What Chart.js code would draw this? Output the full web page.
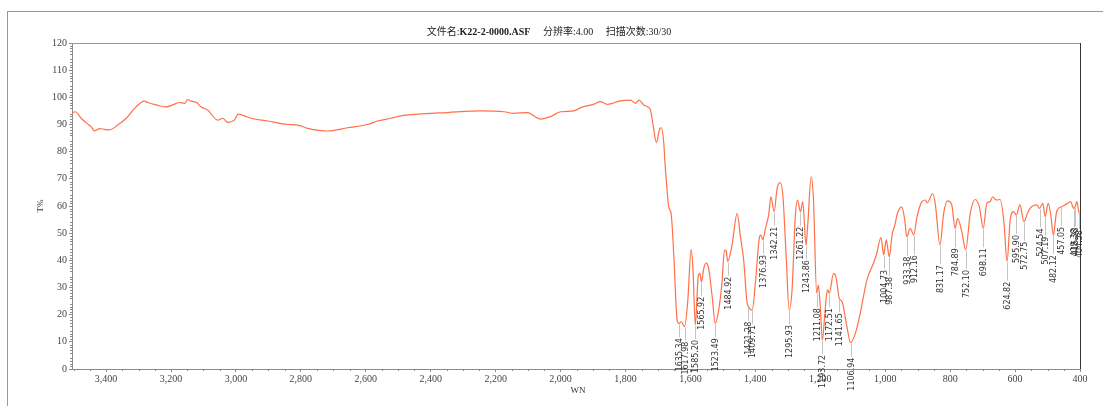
<!DOCTYPE html>
<html>
<head>
<meta charset="utf-8">
<script src="https://cdn.jsdelivr.net/npm/chart.js@4.4.1/dist/chart.umd.min.js"></script>
<style>
  html, body { margin: 0; padding: 0; background: #fff; overflow: hidden; }
  #wrap { width: 1103px; height: 406px; }
</style>
</head>
<body>
<div id="wrap"><canvas id="irChart" width="1103" height="406"></canvas></div>
<script>
// spectrum: wavenumber (cm-1) and transmittance (%)
const wavenumbers = [
  3505, 3495, 3477, 3460, 3446, 3436, 3420, 3405, 3390, 3364, 3338, 3308, 3282, 3272, 3246, 3215,
  3195, 3174, 3158, 3149, 3138, 3120, 3108, 3087, 3056, 3041, 3025, 3005, 2993, 2974, 2954, 2902,
  2841, 2810, 2779, 2718, 2656, 2595, 2564, 2523, 2492, 2451, 2349, 2246, 2174, 2144, 2103, 2062,
  2031, 2000, 1959, 1938, 1897, 1877, 1856, 1815, 1785, 1769, 1759, 1744, 1728, 1723, 1715, 1705,
  1694, 1690, 1682, 1679, 1672, 1667, 1659, 1651, 1641, 1635.34, 1628, 1617.98, 1608, 1598, 1592,
  1585.20, 1576, 1571, 1565.92, 1559, 1551, 1544, 1533, 1523.49, 1513, 1503, 1495, 1490, 1484.92,
  1472, 1456, 1446, 1436, 1426, 1421.28, 1409.71, 1400, 1387, 1383, 1376.93, 1369, 1359, 1352,
  1342.21, 1333, 1323, 1315, 1305, 1295.93, 1287, 1277, 1270, 1261.22, 1254, 1243.86, 1239, 1228,
  1221, 1211.08, 1206, 1200, 1193.72, 1185, 1178, 1172.51, 1159, 1151, 1141.65, 1133, 1118, 1106.94,
  1092, 1077, 1056, 1036, 1026, 1013, 1004.73, 997, 987.38, 979, 969, 964, 949, 940, 933.38, 923,
  912.16, 902, 887, 877, 870, 854, 846, 831.17, 820, 808, 795, 784.89, 777, 764, 752.10, 738, 723,
  710, 698.11, 687, 677, 669, 658, 646, 634, 624.82, 615, 605, 595.90, 585, 572.75, 562, 554, 533,
  524.54, 515, 507.19, 498, 490, 482.12, 472, 457.05, 441, 429, 419.38, 415.23, 410, 404.58, 400
];
const transmittance = [
  94.2, 94.7, 92.3, 90.5, 89.2, 87.6, 88.5, 88.2, 88.0, 89.8, 92.3, 96.5, 98.6, 98.1, 97.2, 96.5,
  97.2, 98.1, 97.8, 99.2, 98.6, 98.0, 96.5, 95.3, 91.6, 92.3, 90.8, 91.6, 93.8, 93.2, 92.3, 91.3,
  90.0, 89.8, 88.6, 87.6, 88.8, 90.0, 91.3, 92.3, 93.2, 93.7, 94.4, 95.0, 94.7, 94.1, 94.4, 92.0,
  92.9, 94.7, 95.0, 96.2, 97.5, 98.4, 97.4, 98.7, 99.0, 97.8, 99.0, 97.2, 96.2, 95.3, 89.8, 83.4,
  88.6, 88.8, 83.0, 76.9, 65.9, 59.7, 56.7, 41.3, 18.0, 16.8, 17.4, 15.6, 25.4, 44.0, 36.4,
  16.2, 34.0, 35.2, 32.1, 37.0, 39.1, 37.0, 26.6, 16.8, 21.7, 31.5, 43.8, 43.5, 39.5,
  45.6, 57.3, 48.7, 40.1, 24.8, 22.9, 21.7, 31.5, 48.7, 49.3, 47.5, 51.8, 56.7, 63.4,
  57.9, 66.5, 68.6, 63.4, 41.3, 21.7, 29.1, 56.1, 62.2, 57.9, 61.6, 45.6, 52.4, 70.7,
  62.2, 27.9, 30.9, 22.9, 10.7, 21.7, 29.1, 27.9, 35.2, 33.4, 26.0, 24.8, 15.6, 9.7,
  13.1, 20.5, 33.0, 39.0, 42.6, 48.4, 42.0, 47.5, 41.3, 49.3, 53.6, 56.7, 59.7, 55.0, 48.7, 51.8,
  49.3, 56.1, 61.6, 62.2, 61.2, 64.6, 61.0, 45.6, 57.3, 61.9, 60.4, 51.8, 55.4, 50.5, 43.8, 57.3, 62.4,
  59.7, 51.8, 61.0, 61.6, 63.4, 62.2, 62.4, 53.6, 39.5, 54.8, 57.9, 56.7, 60.4, 54.2, 57.3, 59.1, 60.4,
  59.1, 61.0, 56.1, 61.0, 56.7, 49.3, 57.9, 59.7, 60.7, 61.6, 59.1, 59.6, 61.6, 58.5, 56.1
];

// labelled minima
const peakWn = [
  1635.34, 1617.98, 1585.20, 1565.92, 1523.49, 1484.92, 1421.28, 1409.71, 1376.93, 1342.21,
  1295.93, 1261.22, 1243.86, 1211.08, 1193.72, 1172.51, 1141.65, 1106.94, 1004.73, 987.38,
  933.38, 912.16, 831.17, 784.89, 752.10, 698.11, 624.82, 595.90, 572.75, 524.54, 507.19,
  482.12, 457.05, 419.38, 415.23, 404.58
];
const peakT = [
  16.8, 15.6, 16.2, 32.1, 16.8, 39.5, 22.9, 21.7, 47.5, 57.9,
  21.7, 57.9, 45.6, 27.9, 10.7, 27.9, 26.0, 9.7, 42.0, 41.3,
  48.7, 49.3, 45.6, 51.8, 43.8, 51.8, 39.5, 56.7, 54.2, 59.1, 56.1,
  49.3, 59.7, 59.1, 59.6, 58.5
];

const titleParts = [
  { text: '文件名:', bold: false },
  { text: 'K22-2-0000.ASF', bold: true },
  { text: '     分辨率:4.00     扫描次数:30/30', bold: false }
];
const xTitle = 'WN';
const yTitle = 'T%';

(() => {
  'use strict';

  const serif = "'Liberation Serif', 'Noto Sans CJK SC', serif";
  const axisGray = '#8a8a8a';

  const points = wavenumbers.map((w, i) => ({ x: w, y: transmittance[i] }));

  const decorPlugin = {
    id: 'decor',
    beforeDraw(chart) {
      const { ctx } = chart;
      ctx.save();
      ctx.strokeStyle = '#9a9a9a';
      ctx.lineWidth = 1;
      ctx.strokeRect(7.5, 11.5, 2000, 2000);
      ctx.restore();
    },
    afterDraw(chart) {
      const { ctx, chartArea: a, scales } = chart;
      const xs = scales.x, ys = scales.y;
      ctx.save();
      // top and right frame of the plot
      ctx.lineWidth = 1;
      ctx.strokeStyle = '#9a9a9a';
      ctx.beginPath();
      ctx.moveTo(a.left, a.top + 0.5);
      ctx.lineTo(a.right, a.top + 0.5);
      ctx.stroke();
      ctx.strokeStyle = '#333';
      ctx.beginPath();
      ctx.moveTo(a.right + 0.5, a.top);
      ctx.lineTo(a.right + 0.5, a.bottom);
      ctx.stroke();

      // minor ticks
      ctx.strokeStyle = axisGray;
      ctx.beginPath();
      for (let v = 0; v <= 120; v += 1) {
        if (v % 5 === 0) continue;
        const y = Math.round(ys.getPixelForValue(v)) + 0.5;
        ctx.moveTo(a.left - 2, y);
        ctx.lineTo(a.left, y);
      }
      for (let v = 450; v <= 3500; v += 50) {
        if (v % 200 === 0) continue;
        const x = Math.round(xs.getPixelForValue(v)) + 0.5;
        ctx.moveTo(x, a.bottom);
        ctx.lineTo(x, a.bottom + 2);
      }
      ctx.stroke();

      // title
      ctx.fillStyle = '#222';
      ctx.textBaseline = 'middle';
      const fontOf = p => (p.bold ? 'bold ' : '') + '10px ' + serif;
      let total = 0;
      titleParts.forEach(p => { ctx.font = fontOf(p); total += ctx.measureText(p.text).width; });
      let tx = 549 - total / 2;
      titleParts.forEach(p => {
        ctx.font = fontOf(p);
        ctx.textAlign = 'left';
        ctx.fillText(p.text, tx, 32);
        tx += ctx.measureText(p.text).width;
      });

      // axis titles
      ctx.font = '9px ' + serif;
      ctx.fillStyle = '#333';
      ctx.textAlign = 'center';
      ctx.fillText(xTitle, (a.left + a.right) / 2 + 2, 391);
      ctx.save();
      ctx.translate(41, (a.top + a.bottom) / 2);
      ctx.rotate(-Math.PI / 2);
      ctx.fillText(yTitle, 0, 0);
      ctx.restore();
      ctx.restore();
    },
    afterDatasetsDraw(chart) {
      const { ctx, scales } = chart;
      ctx.save();
      ctx.font = "8px 'DejaVu Sans', sans-serif";
      ctx.textBaseline = 'middle';
      ctx.textAlign = 'left';
      peakWn.forEach((w, i) => {
        const x = Math.round(scales.x.getPixelForValue(w)) + 0.5;
        const y = scales.y.getPixelForValue(peakT[i]);
        const label = w.toFixed(2);
        const bottom = y + 48;
        const top = bottom - ctx.measureText(label).width;
        ctx.strokeStyle = '#c4c4c4';
        ctx.lineWidth = 1;
        ctx.beginPath();
        ctx.moveTo(x, y + 1);
        ctx.lineTo(x, top - 1);
        ctx.stroke();
        ctx.save();
        ctx.translate(x, bottom);
        ctx.rotate(-Math.PI / 2);
        ctx.fillStyle = '#333';
        ctx.fillText(label, 0, 0);
        ctx.restore();
      });
      ctx.restore();
    }
  };

  new Chart(document.getElementById('irChart').getContext('2d'), {
    type: 'line',
    data: {
      datasets: [{
        data: points,
        borderColor: 'rgb(255,112,72)',
        borderWidth: 1.2,
        pointRadius: 0,
        cubicInterpolationMode: 'monotone',
        fill: false
      }]
    },
    options: {
      responsive: false,
      animation: false,
      events: [],
      layout: { padding: { left: 0, top: 43, right: 23, bottom: 0 } },
      plugins: { legend: { display: false }, title: { display: false }, tooltip: { enabled: false } },
      scales: {
        x: {
          type: 'linear',
          min: 400,
          max: 3505,
          reverse: true,
          ticks: {
            stepSize: 200,
            includeBounds: false,
            autoSkip: false,
            maxRotation: 0,
            padding: 1,
            color: '#444',
            font: { family: serif, size: 10 },
            callback: v => v.toLocaleString('en-US')
          },
          grid: { drawOnChartArea: false, drawTicks: true, tickLength: 3, tickColor: axisGray },
          border: { display: true, color: axisGray },
          afterFit: s => { s.height = 37; }
        },
        y: {
          min: 0,
          max: 120,
          ticks: {
            stepSize: 5,
            padding: 2,
            color: '#444',
            font: { family: serif, size: 10 }
          },
          grid: { drawOnChartArea: false, drawTicks: true, tickLength: 3, tickColor: axisGray },
          border: { display: true, color: axisGray },
          afterFit: s => { s.width = 72; }
        }
      }
    },
    plugins: [decorPlugin]
  });
})();
</script>
</body>
</html>
